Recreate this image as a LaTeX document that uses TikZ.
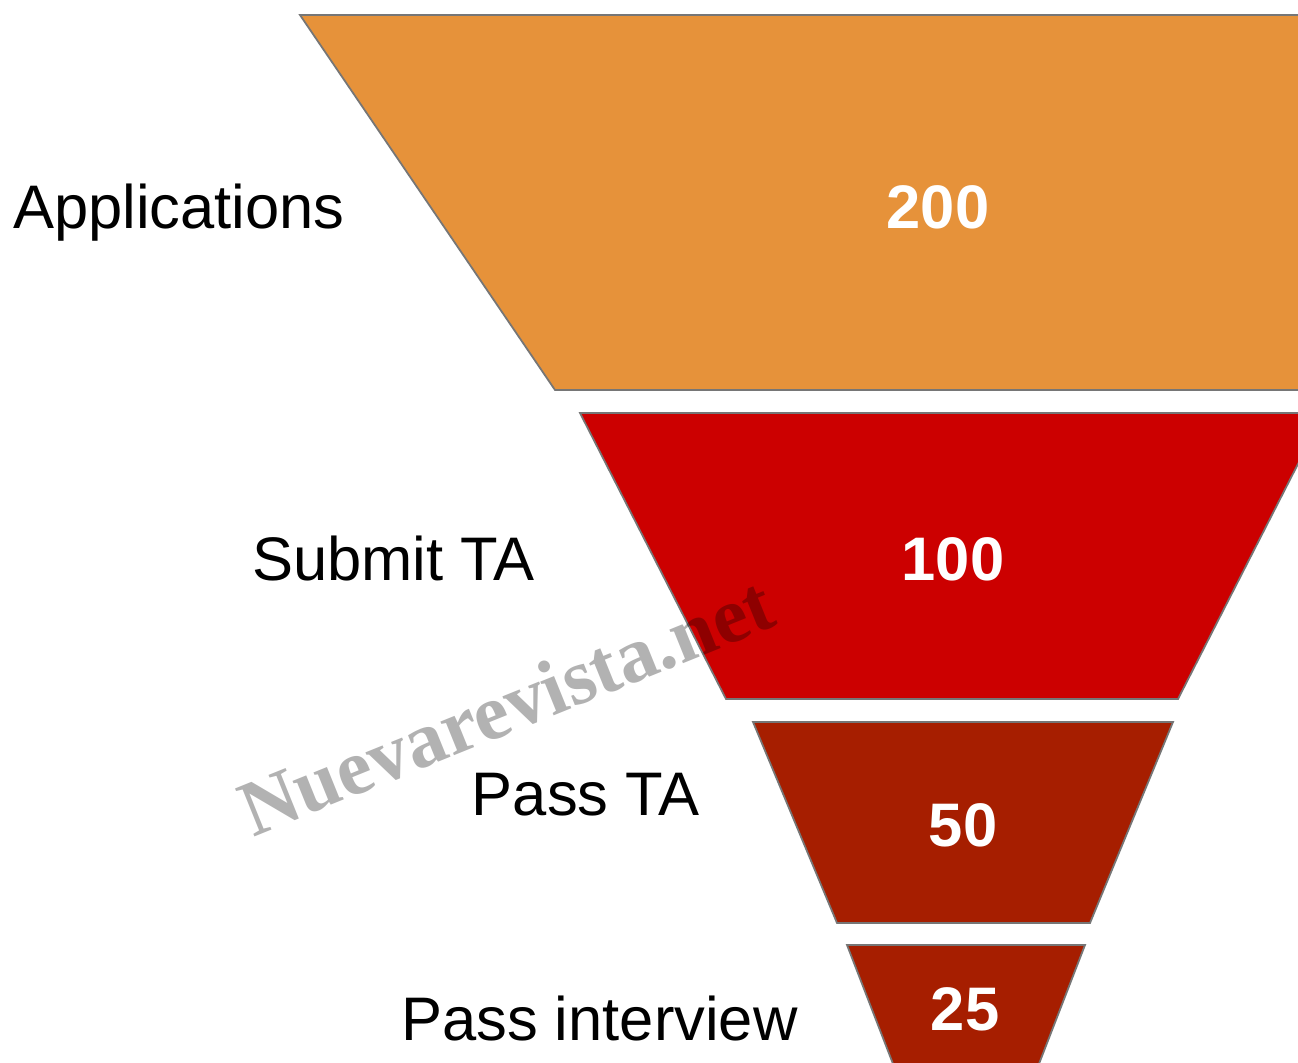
\documentclass[tikz,border=0pt]{standalone}
\usepackage{fontspec}
\setmainfont{Liberation Sans}
\newfontfamily\wmfont{Liberation Serif}
\usepackage{tikz}
\usetikzlibrary{calc}
\definecolor{fOrange}{RGB}{230,146,58}
\definecolor{fRed}{RGB}{204,0,0}
\definecolor{fDark}{RGB}{166,30,0}
\definecolor{fEdge}{RGB}{118,118,118}

\begin{document}
\begin{tikzpicture}[x=0.02cm, y=-0.02cm]
\tikzset{
  stage/.style={draw=fEdge, line width=1pt, line join=miter},
  lbl/.style={anchor=base east, inner sep=0pt, font=\fontsize{35}{40}\selectfont},
  cnt/.style={anchor=base, inner sep=0pt, text=white, font=\fontsize{35}{40}\selectfont\bfseries}
}
\useasboundingbox (0,0) rectangle (1298,1062);
\clip (0,0) rectangle (1298,1062);

% funnel stages
\filldraw[stage, fill=fOrange] (300,15) -- (1576,15) -- (1321,390) -- (555,390) -- cycle;
\filldraw[stage, fill=fRed] (580,413) -- (1324,413) -- (1178,699) -- (726,699) -- cycle;
\filldraw[stage, fill=fDark] (753,722) -- (1173,722) -- (1090,923) -- (837,923) -- cycle;
\filldraw[stage, fill=fDark] (847,945) -- (1085,945) -- (1025,1100) -- (907,1100) -- cycle;

% stage names
\node[lbl] (appl) at (345,228) {Applications};
\node[lbl] (subm) at (535,580) {Submit TA};
\node[lbl] (pass) at (700,815) {Pass TA};
\node[lbl] (intv) at (798,1040) {Pass interview};

% counts
\node[cnt] (n200) at (938,228) {200};
\node[cnt] (n100) at (953,580) {100};
\node[cnt] (n50) at (963,846) {50};
\node[cnt] (n25) at (965,1030) {25};

% watermark
\node[anchor=base, inner sep=0pt, rotate=22, text=black, text opacity=0.3,
  font=\fontsize{45}{50}\wmfont\bfseries] (wm) at (516,731) {Nuevarevista.net};
\end{tikzpicture}
\end{document}
